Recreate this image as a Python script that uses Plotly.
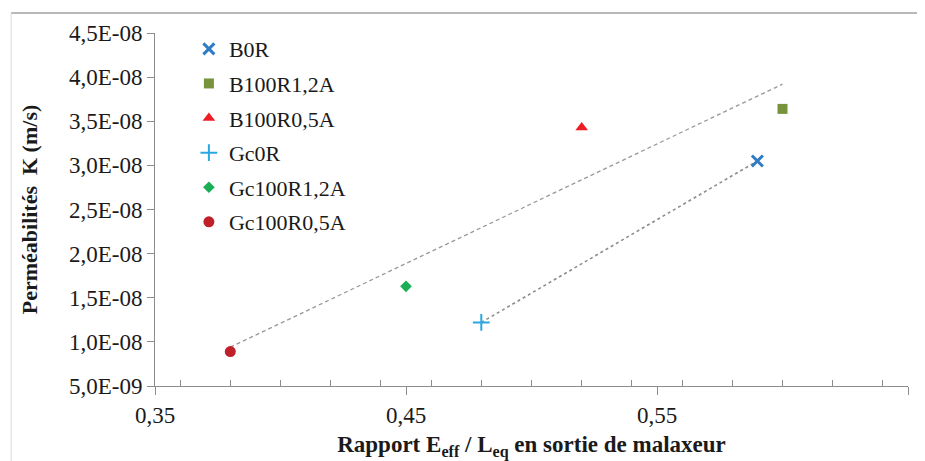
import plotly.graph_objects as go

# ---- data ----
series_names = ["B0R", "B100R1,2A", "B100R0,5A", "Gc0R", "Gc100R1,2A", "Gc100R0,5A"]
series_x = [0.590, 0.600, 0.520, 0.480, 0.450, 0.380]
series_y = [3.05e-8, 3.64e-8, 3.43e-8, 1.22e-8, 1.63e-8, 8.9e-9]

# trend lines (as drawn in the source chart)
trend_dashed_x = [0.380, 0.600]
trend_dashed_y = [9.4e-9, 3.92e-8]
trend_dotted_x = [0.480, 0.590]
trend_dotted_y = [1.22e-8, 3.05e-8]

x_tickvals = [0.35, 0.45, 0.55, 0.65]
x_ticktext = ["0,35", "0,45", "0,55", "0,65"]
y_tickvals = [5e-9, 1e-8, 1.5e-8, 2e-8, 2.5e-8, 3e-8, 3.5e-8, 4e-8, 4.5e-8]
y_ticktext = ["5,0E-09", "1,0E-08", "1,5E-08", "2,0E-08", "2,5E-08",
              "3,0E-08", "3,5E-08", "4,0E-08", "4,5E-08"]

# ---- styles ----
styles = [
    dict(symbol="x-thin", color="#2F7BC4", size=11, lw=3),
    dict(symbol="square", color="#77933C", size=10, lw=0),
    dict(symbol="triangle-up", color="#EE1C25", size=11, lw=0),
    dict(symbol="cross-thin", color="#2AA7E2", size=12, lw=2),
    dict(symbol="diamond", color="#1AAF54", size=9, lw=0),
    dict(symbol="circle", color="#C0202A", size=11, lw=0),
]

SERIF = "Liberation Serif"

fig = go.Figure()

fig.add_trace(go.Scatter(x=trend_dashed_x, y=trend_dashed_y, mode="lines",
                         line=dict(color="#999999", width=1.3, dash="4px,3px"),
                         showlegend=False, hoverinfo="skip"))
fig.add_trace(go.Scatter(x=trend_dotted_x, y=trend_dotted_y, mode="lines",
                         line=dict(color="#8C8C8C", width=1.6, dash="dot"),
                         showlegend=False, hoverinfo="skip"))

for i, (name, xv, yv, st) in enumerate(zip(series_names, series_x, series_y, styles)):
    fig.add_trace(go.Scatter(
        x=[xv], y=[yv], mode="markers", name=name, legendgroup=f"g{i}",
        marker=dict(symbol=st["symbol"], color=st["color"], size=st["size"],
                    line=dict(color=st["color"], width=st["lw"])),
    ))

# page body has an 8px margin: figure is sized so it fills the 925x461 window
fig.update_layout(
    width=917, height=453,
    margin=dict(l=147, r=17, t=25, b=75),
    paper_bgcolor="white", plot_bgcolor="white",
    font=dict(family=SERIF, size=22, color="#1a1a1a"),
    showlegend=True,
    legend=dict(x=0.045, xanchor="left", y=1.014, yanchor="top",
                font=dict(family=SERIF, size=22, color="#1a1a1a"),
                bgcolor="rgba(0,0,0,0)", tracegroupgap=3, itemwidth=30),
    xaxis=dict(
        range=[0.35, 0.65], tickvals=x_tickvals, ticktext=x_ticktext, automargin=False,
        showgrid=False, zeroline=False, showline=True, linecolor="#8C8C8C", linewidth=1,
        ticks="outside", ticklen=8, tickcolor="#8C8C8C", tickwidth=1,
        minor=dict(dtick=0.02, ticks="inside", ticklen=6, tickcolor="#8C8C8C", tickwidth=1, showgrid=False),
        tickfont=dict(family=SERIF, size=23, color="#1a1a1a"),
        title=dict(text="<b>Rapport E<sub>eff</sub> / L<sub>eq</sub> en sortie de malaxeur</b>",
                   font=dict(family=SERIF, size=23, color="#1a1a1a"), standoff=9),
    ),
    yaxis=dict(
        range=[5e-9, 4.5e-8], tickvals=y_tickvals, ticktext=y_ticktext, automargin=False,
        showgrid=False, zeroline=False, showline=True, linecolor="#8C8C8C", linewidth=1,
        ticks="outside", ticklen=7, tickcolor="#8C8C8C", tickwidth=1,
        tickfont=dict(family=SERIF, size=23, color="#1a1a1a"),
        title=dict(text="<b>Perméabilités  K (m/s)</b>",
                   font=dict(family=SERIF, size=22, color="#1a1a1a"), standoff=25),
    ),
    shapes=[
        dict(type="line", xref="paper", yref="paper", x0=-0.191, x1=1.03, y0=1.0567, y1=1.0567,
             line=dict(color="#A0A0A0", width=1.5), layer="below"),
        dict(type="line", xref="paper", yref="paper", x0=-0.191, x1=-0.191, y0=1.0567, y1=-0.22,
             line=dict(color="#D9D9D9", width=1), layer="below"),
    ],
)

fig.write_html("out.html")
